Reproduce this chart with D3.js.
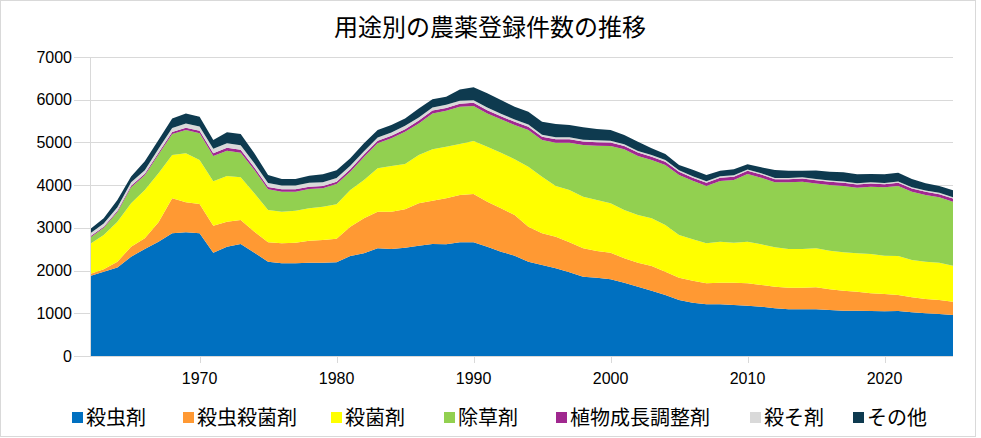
<!DOCTYPE html>
<html lang="ja">
<head>
<meta charset="UTF-8">
<title>用途別の農薬登録件数の推移</title>
<script src="https://d3js.org/d3.v7.min.js"></script>
<style>
  body { margin: 0; background: #fff; }
  text { font-family: "Liberation Sans", Arial, sans-serif; }
  .jp { font-family: "Noto Sans CJK JP", "Noto Sans", sans-serif; }
</style>
</head>
<body>
<script>
// years 1962-2025
var years = d3.range(1962, 2026);

var series = ["殺虫剤", "殺虫殺菌剤", "殺菌剤", "除草剤", "植物成長調整剤", "殺そ剤", "その他"];
var colors = ["#0070c0", "#ff9933", "#ffff00", "#92d050", "#a0288f", "#d9d9d9", "#0e3a4f"];

var insecticide = [1873, 1974, 2070, 2325, 2505, 2676, 2871, 2895, 2871, 2419,
  2559, 2622, 2419, 2208, 2169, 2169, 2185, 2185, 2193, 2341,
  2403, 2520, 2505, 2536, 2583, 2622, 2614, 2661, 2661, 2559,
  2442, 2349, 2208, 2130, 2052, 1959, 1857, 1834, 1795, 1717,
  1623, 1529, 1428, 1311, 1248, 1209, 1209, 1194, 1178, 1155,
  1116, 1092, 1092, 1092, 1077, 1061, 1061, 1053, 1046, 1053,
  1022, 999, 983, 960];
var insectFungicide = [47, 56, 138, 234, 249, 453, 820, 702, 687, 632,
  586, 562, 491, 453, 468, 484, 515, 530, 552, 687,
  820, 859, 874, 897, 991, 1014, 1077, 1108, 1131, 1054,
  1015, 952, 820, 741, 742, 702, 663, 624, 624, 569,
  562, 578, 546, 523, 512, 492, 508, 523, 523, 507,
  507, 508, 508, 515, 484, 468, 445, 414, 405, 375,
  351, 335, 328, 312];
var fungicide = [702, 802, 937, 1015, 1132, 1147, 1014, 1147, 1030, 1039,
  1069, 998, 898, 757, 742, 749, 757, 781, 810, 858,
  897, 1014, 1069, 1062, 1131, 1202, 1209, 1194, 1241, 1287,
  1303, 1303, 1404, 1327, 1186, 1225, 1210, 1194, 1155, 1132,
  1116, 1116, 1093, 998, 975, 936, 959, 936, 975, 952,
  921, 905, 905, 913, 905, 898, 897, 921, 898, 913,
  874, 874, 874, 843];
var herbicide = [148, 168, 225, 376, 344, 444, 492, 546, 624, 592,
  593, 578, 546, 483, 468, 445, 452, 429, 471, 429,
  540, 585, 647, 756, 741, 842, 843, 874, 819, 780,
  780, 803, 858, 858, 1014, 1108, 1209, 1272, 1342, 1420,
  1381, 1365, 1404, 1405, 1365, 1343, 1421, 1467, 1584, 1561,
  1521, 1560, 1576, 1520, 1537, 1553, 1538, 1576, 1599, 1639,
  1600, 1561, 1529, 1498];
var growthRegulator = [25, 25, 30, 35, 35, 40, 45, 55, 60, 65,
  70, 70, 60, 55, 55, 55, 55, 55, 55, 55,
  55, 60, 60, 60, 65, 65, 65, 70, 75, 75,
  75, 75, 75, 75, 80, 80, 80, 80, 80, 80,
  80, 75, 75, 75, 75, 75, 75, 75, 75, 75,
  75, 75, 75, 75, 75, 75, 75, 75, 75, 75,
  75, 75, 75, 75];
var rodenticide = [70, 75, 80, 85, 85, 90, 95, 100, 100, 105,
  105, 105, 100, 95, 90, 90, 90, 85, 85, 85,
  80, 80, 80, 80, 75, 75, 75, 70, 60, 60,
  55, 55, 55, 50, 50, 50, 45, 45, 45, 40,
  40, 40, 40, 35, 35, 35, 35, 35, 30, 30,
  30, 30, 30, 30, 30, 30, 30, 30, 30, 30,
  30, 30, 30, 30];
var others = [100, 123, 172, 130, 210, 206, 223, 235, 228, 204,
  254, 262, 230, 186, 151, 151, 167, 188, 184, 172,
  183, 172, 172, 172, 211, 188, 188, 265, 302, 334,
  323, 300, 299, 305, 307, 283, 289, 265, 249, 215,
  215, 158, 143, 124, 152, 147, 131, 140, 122, 137,
  184, 168, 152, 200, 207, 215, 207, 191, 200, 207,
  191, 168, 161, 162];

var yTicks = [0, 1000, 2000, 3000, 4000, 5000, 6000, 7000];
var xTicks = [1970, 1980, 1990, 2000, 2010, 2020];

var W = 981, H = 438;
var svg = d3.select("body").append("svg")
  .attr("width", W)
  .attr("height", H);

svg.append("rect")
  .attr("x", 0.5).attr("y", 0.5)
  .attr("width", 975).attr("height", 436)
  .attr("fill", "#fff")
  .attr("stroke", "#d9d9d9");

var x = d3.scaleLinear().domain([1962, 2025]).range([90, 953]);
var y = d3.scaleLinear().domain([0, 7000]).range([356, 57]);

// table for the stack
var cols = [insecticide, insectFungicide, fungicide, herbicide, growthRegulator, rodenticide, others];
var table = years.map(function (yr, i) {
  var row = { year: yr };
  series.forEach(function (s, j) { row[s] = cols[j][i]; });
  return row;
});

var stacked = d3.stack().keys(series)(table);

// grid
svg.append("g")
  .selectAll("line")
  .data(yTicks)
  .join("line")
  .attr("x1", 74)
  .attr("x2", 953)
  .attr("y1", function (d) { return Math.round(y(d)) + 0.5; })
  .attr("y2", function (d) { return Math.round(y(d)) + 0.5; })
  .attr("stroke", "#d9d9d9");

var area = d3.area()
  .x(function (d) { return x(d.data.year); })
  .y0(function (d) { return y(d[0]); })
  .y1(function (d) { return y(d[1]); });

svg.append("g")
  .selectAll("path")
  .data(stacked)
  .join("path")
  .attr("d", area)
  .attr("fill", function (d, i) { return colors[i]; });

// axes lines
svg.append("line")
  .attr("x1", 90.5).attr("x2", 90.5)
  .attr("y1", 57).attr("y2", 356)
  .attr("stroke", "#d9d9d9");
svg.append("line")
  .attr("x1", 90).attr("x2", 953)
  .attr("y1", 356.5).attr("y2", 356.5)
  .attr("stroke", "#d9d9d9");

// y labels
svg.append("g")
  .selectAll("text")
  .data(yTicks)
  .join("text")
  .attr("x", 72)
  .attr("y", function (d) { return y(d); })
  .attr("dy", "0.35em")
  .attr("text-anchor", "end")
  .attr("font-size", 16)
  .attr("fill", "#000")
  .text(function (d) { return d; });

// x ticks + labels
var xg = svg.append("g");
xg.selectAll("line")
  .data(xTicks)
  .join("line")
  .attr("x1", function (d) { return Math.round(x(d)) + 0.5; })
  .attr("x2", function (d) { return Math.round(x(d)) + 0.5; })
  .attr("y1", 356)
  .attr("y2", 363)
  .attr("stroke", "#d9d9d9");
xg.selectAll("text")
  .data(xTicks)
  .join("text")
  .attr("x", function (d) { return x(d); })
  .attr("y", 384)
  .attr("text-anchor", "middle")
  .attr("font-size", 16)
  .attr("fill", "#000")
  .text(function (d) { return d; });

// title
svg.append("text")
  .attr("class", "jp")
  .attr("x", 490)
  .attr("y", 36)
  .attr("text-anchor", "middle")
  .attr("font-size", 24)
  .attr("fill", "#000")
  .text("用途別の農薬登録件数の推移");

// legend
var legendX = [72, 183, 331, 444, 556, 750, 853];
var lg = svg.append("g")
  .selectAll("g")
  .data(series)
  .join("g")
  .attr("transform", function (d, i) { return "translate(" + legendX[i] + ",418)"; });
lg.append("rect")
  .attr("x", 0).attr("y", -6)
  .attr("width", 11).attr("height", 11)
  .attr("fill", function (d, i) { return colors[i]; });
lg.append("text")
  .attr("class", "jp")
  .attr("x", 14)
  .attr("y", 0)
  .attr("dy", "0.36em")
  .attr("font-size", 20)
  .attr("fill", "#000")
  .text(function (d) { return d; });
</script>
</body>
</html>
